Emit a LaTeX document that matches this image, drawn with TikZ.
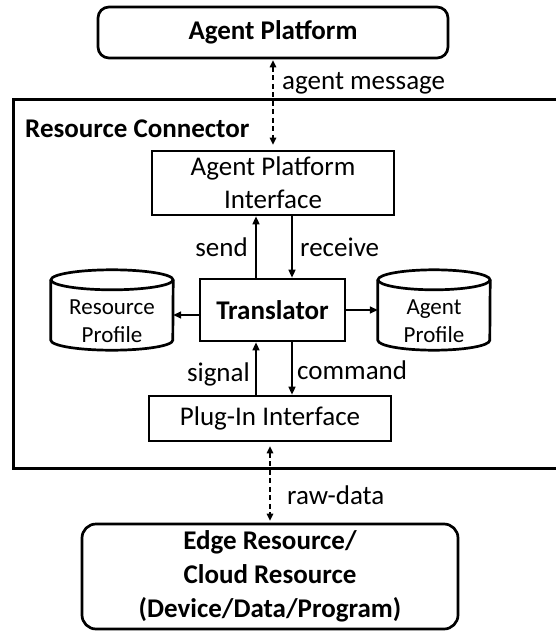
\documentclass[tikz,border=0pt]{standalone}
\usepackage{fontspec}
\setmainfont{Carlito}
\usetikzlibrary{arrows.meta,calc}

\tikzset{
  boxline/.style={line width=2.7pt},
  stepbox/.style={draw, boxline, inner sep=0pt, align=center,
    font=\fontsize{27}{33}\selectfont},
  roundbox/.style={stepbox, rounded corners=11pt, font=\bfseries\fontsize{27}{34}\selectfont},
  drum/.style={inner sep=0pt},
  drumtext/.style={align=center, inner sep=0pt, font=\fontsize{23}{28}\selectfont},
  lbl/.style={inner sep=0pt, font=\fontsize{27}{33}\selectfont},
  arr/.style={line width=1.5pt, -{Triangle[length=8pt,width=7pt]}},
  dasharr/.style={line width=1.5pt, dash pattern=on 5pt off 3.5pt,
    {Triangle[length=7pt,width=6.5pt]}-{Triangle[length=7pt,width=6.5pt]}}
}

% cylinder outline around a named node: node, x radius, y radius
\newcommand\drawdrum[3]{%
  \draw[boxline] ([yshift=-#3pt]#1.north) ellipse [x radius=#2pt, y radius=#3pt];
  \draw[boxline] ([yshift=-#3pt]#1.north west) -- ([yshift=#3pt]#1.south west)
    arc[start angle=180, end angle=360, x radius=#2pt, y radius=#3pt]
    -- ([yshift=-#3pt]#1.north east);
}

\begin{document}
\begin{tikzpicture}[x=1pt, y=-1pt]
\useasboundingbox (0,0) rectangle (556,631);

% outer platform and resource
\node[roundbox, minimum width=350pt, minimum height=51pt] (ap) at (273,32.5) {Agent Platform};
\node[roundbox, minimum width=376pt, minimum height=105pt, rounded corners=14pt] (er) at (270,576.5)
  {Edge Resource/\\Cloud Resource\\(Device/Data/Program)};

% resource connector frame
\draw[line width=3pt] (13,100) rectangle (580,468);
\node[lbl, font=\bfseries\fontsize{27}{33}\selectfont, anchor=base west] (rc) at (25,138) {Resource Connector};

% inner components
\node[stepbox, minimum width=242pt, minimum height=64pt] (api) at (273,183) {Agent Platform\\Interface};
\node[stepbox, minimum width=145pt, minimum height=62pt, font=\bfseries\fontsize{27}{33}\selectfont] (tr) at (272.5,310) {Translator};
\node[stepbox, minimum width=242pt, minimum height=45pt] (pi) at (270,418.5) {Plug-In Interface};

% profile stores
\node[drum, minimum width=122pt, minimum height=80pt] (rp) at (112,310) {};
\drawdrum{rp}{61}{10}
\node[drumtext] (rpt) at ([yshift=-11pt]rp.center) {Resource\\Profile};
\node[drum, minimum width=112pt, minimum height=80pt] (agp) at (434,310) {};
\drawdrum{agp}{56}{10}
\node[drumtext] (agpt) at ([yshift=-11pt]agp.center) {Agent\\Profile};

% messaging between platform and connector
\draw[dasharr, shorten <=1pt, shorten >=5pt] (ap.south) -- (api.north);
\node[lbl, anchor=west] (lam) at (282,83) {agent message};

% translator links
\draw[arr] (tr.north -| 256,0) -- (api.south -| 256,0);
\draw[arr] (api.south -| 292,0) -- (tr.north -| 292,0);
\node[lbl, anchor=east] (lsend) at (248,247) {send};
\node[lbl, anchor=west] (lrecv) at (300,247) {receive};

\draw[arr] (pi.north -| 256,0) -- (tr.south -| 256,0);
\draw[arr] (tr.south -| 292,0) -- (pi.north -| 292,0);
\node[lbl, anchor=east] (lsig) at (250,374) {signal};
\node[lbl, anchor=west] (lcmd) at (297,370) {command};

\draw[arr] ([yshift=-5pt]tr.west) -- ([yshift=-5pt]tr.west -| rp.east);
\draw[arr] (tr.east) -- (tr.east -| agp.west);

% raw data exchange with the resource
\draw[dasharr, shorten <=4pt, shorten >=2pt] (pi.south) -- (er.north);
\node[lbl, anchor=west] (lraw) at (287,495) {raw-data};
\end{tikzpicture}
\end{document}
